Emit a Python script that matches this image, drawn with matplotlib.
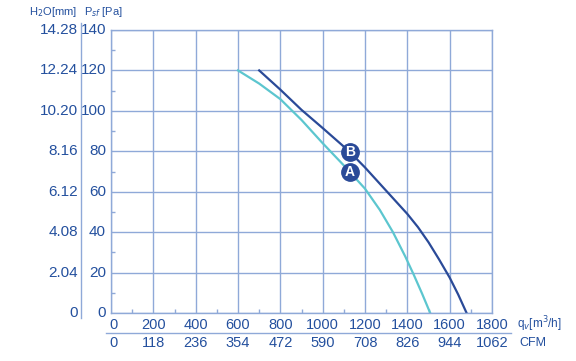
import matplotlib.pyplot as plt
import matplotlib.transforms as mtransforms
from matplotlib.lines import Line2D
import numpy as np

plt.rcParams['font.family'] = ['Liberation Sans', 'DejaVu Sans']

# curve data (flow m3/h, pressure Pa)
q_a = [600, 700, 800, 900, 1000, 1100, 1200, 1270, 1332, 1390, 1430, 1470, 1508]
p_a = [120, 113.5, 105.8, 95.5, 84, 73, 61.5, 51, 40, 28, 19, 9.5, 0]
q_b = [700, 800, 900, 1000, 1125, 1200, 1300, 1400, 1450, 1500, 1550, 1600, 1640, 1680]
p_b = [120, 110.5, 100.5, 91.5, 80, 72, 60.5, 49, 42.5, 35, 26.5, 17.5, 9.2, 0]

pa_ticks = [0, 20, 40, 60, 80, 100, 120, 140]
h2o_labels = ['0', '2.04', '4.08', '6.12', '8.16', '10.20', '12.24', '14.28']
q_ticks = [0, 200, 400, 600, 800, 1000, 1200, 1400, 1600, 1800]
cfm_labels = ['0', '118', '236', '354', '472', '590', '708', '826', '944', '1062']

txt = '#24509e'
grid = '#8fa9d8'
cyan = '#5cc6cf'
dark = '#2a4a98'

fig = plt.figure(figsize=(5.76, 3.61), dpi=100)
ax = fig.add_axes([111 / 576, 1 - 313 / 361, 381 / 576, 283 / 361])

ax.set_xlim(0, 1800)
ax.set_ylim(0, 140)
ax.set_xticks(q_ticks)
ax.set_yticks(pa_ticks)
ax.set_xticks(np.arange(100, 1800, 200), minor=True)
ax.set_yticks(np.arange(10, 140, 20), minor=True)
ax.grid(True, color=grid, lw=1)
ax.tick_params(which='major', length=0, labelbottom=False, labelleft=False)
ax.tick_params(which='minor', direction='in', length=3, color=grid, width=1)
for s in ax.spines.values():
    s.set_color(grid)
    s.set_linewidth(1)

ax.plot(q_a, p_a, color=cyan, lw=1.6)
ax.plot(q_b, p_b, color=dark, lw=1.6)

# circled letters on the curves
for name, qq, pp in [('A', q_a, p_a), ('B', q_b, p_b)]:
    yv = np.interp(1128, qq, pp)
    ax.plot(1128, yv, 'o', ms=12.5, color=dark, zorder=5)
    ax.text(1128, yv, name, color='white', fontsize=10, fontweight='bold',
            ha='center', va='center', zorder=6)

# left labels: Pa and H2O mm
tr_y = mtransforms.blended_transform_factory(fig.transFigure, ax.transData)
for v, h in zip(pa_ticks, h2o_labels):
    ax.text(106 / 576, v, str(v), transform=tr_y, ha='right', va='center',
            fontsize=11, color=txt)
    ax.text(78 / 576, v, h, transform=tr_y, ha='right', va='center',
            fontsize=11, color=txt)
fig.text(77 / 576, 1 - 12 / 361, 'H$_2$O[mm]', ha='right', va='center',
         fontsize=8, color=txt)
fig.text(84 / 576, 1 - 12 / 361, 'P$_{sf}$ [Pa]', ha='left', va='center',
         fontsize=8, color=txt)
fig.add_artist(Line2D([81 / 576, 81 / 576], [1 - 23 / 361, 1 - 318 / 361],
                      color=grid, lw=1))

# bottom labels: m3/h and CFM
tr_x = mtransforms.blended_transform_factory(ax.transData, fig.transFigure)
for v, c in zip(q_ticks, cfm_labels):
    xx = v if v > 0 else -10
    ha = 'center' if v > 0 else 'left'
    ax.text(xx, 1 - 325 / 361, str(v), transform=tr_x,
            ha=ha, va='center', fontsize=10.5, color=txt)
    ax.text(xx, 1 - 343 / 361, c, transform=tr_x,
            ha=ha, va='center', fontsize=10.5, color=txt)
fig.add_artist(Line2D([106 / 576, 511 / 576], [1 - 333 / 361, 1 - 333 / 361],
                      color=grid, lw=1))
fig.text(517 / 576, 1 - 324 / 361, 'q$_v$[m$^3$/h]', ha='left', va='center',
         fontsize=8.5, color=txt)
fig.text(519 / 576, 1 - 343 / 361, 'CFM', ha='left', va='center',
         fontsize=9, color=txt)

fig.savefig('out.png', dpi=100)
